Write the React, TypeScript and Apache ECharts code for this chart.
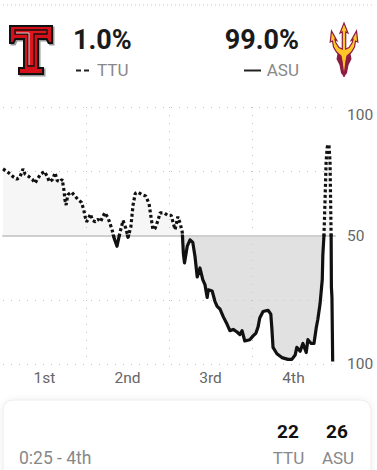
import React, { useEffect, useRef } from 'react';
import * as echarts from 'echarts';

const quarterLabels = ['1st', '2nd', '3rd', '4th'];
const yTickTop = ['100'];
const yTickBottom = ['100', '50'];
const teamNames = ['TTU', 'ASU'];
const winPercent = ['1.0%', '99.0%'];
const finalScores = [22, 26];
const gameClock = '0:25 - 4th';

const gameMinute = [
  0, 0.7, 1.3, 1.8, 2.5, 3.1, 3.6, 4.0, 4.7, 5.3, 5.8, 6.2, 6.8, 7.5, 8.0, 8.4, 9.0, 9.4, 9.8, 10.3,
  10.7, 11.0, 11.2, 11.4, 11.7, 12.4, 13.0, 13.6, 14.2, 14.6, 14.9, 15.1, 15.4, 15.8, 16.2, 16.7, 17.2, 17.6, 18.4, 19.0,
  19.7, 20.1, 20.6, 21.1, 21.7, 22.2, 22.6, 23.1, 23.5, 23.9, 24.4, 25.1, 25.8, 26.4, 26.7, 27.1, 27.5, 28.0, 28.4, 29.1,
  29.8, 30.4, 30.7, 31.1, 31.6, 32.0, 32.4, 32.6, 32.8, 33.3, 33.8, 34.3, 34.7, 35.1, 35.6, 36.1, 36.5, 36.9, 37.1, 37.8,
  38.3, 38.7, 39.2, 39.8, 40.5, 41.0, 41.6, 42.3, 42.8, 43.2, 43.7, 44.6, 45.2, 45.7, 46.1, 46.4, 47.0, 47.9, 48.4, 48.6,
  48.8, 49.5, 50.4, 51.5, 52.2, 52.8, 53.1, 53.7, 54.2, 54.8, 55.1, 55.7, 56.2, 56.6, 56.9, 57.3, 57.7, 57.8, 58.0, 58.2,
  58.4, 58.6, 58.9, 59.1, 59.3, 59.35, 59.45, 59.58,
];
const ttuWinProb = [
  76, 75, 74, 73, 72, 73, 76, 74, 73, 72, 70.5, 72, 74, 75, 73, 71, 72, 74.5, 71.5, 71,
  72, 68, 64, 62, 66, 67, 65.5, 64, 63, 60, 57, 55.5, 56.5, 58.5, 56, 55.5, 56.5, 55.5, 59, 57,
  52.5, 49, 46, 51, 56, 53, 49.5, 53.5, 62, 66.5, 67, 66, 65.5, 62.5, 58, 52.5, 53, 56, 59, 59,
  58, 58, 55.5, 52.5, 57.5, 55, 51.5, 43, 39.5, 46, 48.5, 47.5, 42, 34, 37.5, 33, 31, 26, 29, 28.5,
  24.5, 22.5, 21.5, 18.5, 15.5, 13, 13.5, 12.5, 11.5, 13, 9, 9.5, 11, 12, 14.5, 18, 20.5, 21, 19.5, 13.5,
  6.5, 4, 2.5, 1.8, 1.8, 3.5, 6.5, 5, 8, 4.5, 9.5, 8, 8, 14, 17.5, 23.5, 33, 42.5, 50, 64,
  79, 84.5, 85.5, 79, 50, 30, 26, 1,
];

const FONT = 'Roboto, "Noto Sans", Arial, sans-serif';
const GRID_COLOR = '#c4c4c4';

const ttuSilhouette = [[0,0],[44,0],[44,19],[39,19],[37,15],[30,15],[30,42],[35,42],[35,50],[9,50],[9,42],[14,42],[14,15],[7,15],[5,19],[0,19]];
const ttuRed = [[2,2],[42,2],[42,17],[40.3,17],[38.3,13],[28,13],[28,44],[33,44],[33,48],[11,48],[11,44],[16,44],[16,13],[5.7,13],[3.7,17],[2,17]];
const ttuInner = [[6,5],[38,5],[38,9],[25,9],[25,41],[19,41],[19,9],[6,9]];

const tridentHalf = [[14,0],[18,10],[15.7,9],[15.7,26],[19,24.5],[22,20],[23,16.5],[21.2,17.5],[26.5,8],[27.8,19],[25.5,18],[24.5,24],[21.5,29],[17,33],[16,38],[14,54]];
const trident = tridentHalf.concat(tridentHalf.slice(1, -1).reverse().map(([x, y]) => [28 - x, y]));
const flames = [[8,28],[20,28],[21.5,36],[18.5,42],[17,50],[14,54],[11,50],[9.5,42],[6.5,36]];

function txt(text: string, x: number, y: number, size: number, color: string, align = 'left', weight = 'normal') {
  return {
    type: 'text',
    x,
    y,
    z: 10,
    style: { text, fontSize: size, fontFamily: FONT, fontWeight: weight, fill: color, align, verticalAlign: 'middle' },
  };
}

export default function App() {
  const ref = useRef<HTMLDivElement>(null);
  useEffect(() => {
    if (!ref.current) return;
    const chart = echarts.init(ref.current, undefined, { renderer: 'svg' });
    const data = gameMinute.map((t, i) => [t, ttuWinProb[i]]);
    const splitDotted = { color: GRID_COLOR, type: [1, 7], width: 1 };
    const valueX = (gridIndex: number, withLine: boolean) => ({
      gridIndex,
      type: 'value',
      min: 0,
      max: 60,
      interval: 15,
      position: 'bottom',
      z: 2,
      axisLine: { show: withLine, onZero: false, lineStyle: { color: '#cfcfcf', width: 2 } },
      axisTick: { show: false },
      axisLabel: { show: false },
      splitLine: { show: true, showMinLine: false, showMaxLine: false, lineStyle: splitDotted },
    });
    chart.setOption({
      animation: false,
      backgroundColor: '#ffffff',
      grid: [
        { left: 3, top: 107, width: 332, height: 129 },
        { left: 3, top: 236, width: 332, height: 128 },
      ],
      xAxis: [
        valueX(0, true),
        valueX(1, false),
        {
          gridIndex: 1,
          type: 'category',
          data: quarterLabels,
          position: 'bottom',
          boundaryGap: true,
          axisLine: { show: false },
          axisTick: { show: false },
          splitLine: { show: false },
          axisLabel: { color: '#666', fontSize: 15.5, fontFamily: FONT, margin: 6 },
        },
      ],
      yAxis: [
        {
          gridIndex: 0,
          type: 'value',
          min: 50,
          max: 100,
          interval: 25,
          position: 'right',
          z: 2,
          axisLine: { show: false },
          axisTick: { show: false },
          axisLabel: {
            color: '#666', fontSize: 15.5, fontFamily: FONT, margin: 12, verticalAlign: 'top',
            formatter: (v: number) => (v === 100 ? yTickTop[0] : ''),
          },
          splitLine: { show: true, showMinLine: false, lineStyle: splitDotted },
        },
        {
          gridIndex: 1,
          type: 'value',
          min: 0,
          max: 50,
          interval: 25,
          position: 'right',
          z: 2,
          axisLine: { show: false },
          axisTick: { show: false },
          axisLabel: {
            color: '#666', fontSize: 15.5, fontFamily: FONT, margin: 12,
            formatter: (v: number) => (v === 0 ? yTickBottom[0] : v === 50 ? yTickBottom[1] : ''),
          },
          splitLine: { show: true, showMaxLine: false, lineStyle: splitDotted },
        },
      ],
      series: [
        {
          type: 'line', xAxisIndex: 0, yAxisIndex: 0, data, symbol: 'none', z: 1,
          lineStyle: { width: 0, opacity: 0 },
          areaStyle: { color: '#f6f6f6', origin: 'start', opacity: 1 },
        },
        {
          type: 'line', xAxisIndex: 1, yAxisIndex: 1, data, symbol: 'none', z: 1,
          lineStyle: { width: 0, opacity: 0 },
          areaStyle: { color: '#e1e1e1', origin: 'end', opacity: 1 },
        },
        {
          type: 'line', xAxisIndex: 0, yAxisIndex: 0, data, symbol: 'none', z: 3,
          lineStyle: { width: 3.2, color: '#111', type: [3, 2.5] },
        },
        {
          type: 'line', xAxisIndex: 1, yAxisIndex: 1, data, symbol: 'none', z: 3,
          lineStyle: { width: 3.2, color: '#111', type: 'solid', join: 'round' },
        },
      ],
      graphic: [
        { type: 'line', shape: { x1: 3, y1: 5, x2: 372, y2: 5 }, style: { stroke: '#c8c8c8', lineWidth: 1, lineDash: [1, 3] } },
        {
          type: 'group', x: 9, y: 25,
          children: [
            { type: 'polygon', x: 1.5, y: 1.5, shape: { points: ttuSilhouette }, style: { fill: '#9a9a9a' } },
            { type: 'polygon', shape: { points: ttuSilhouette }, style: { fill: '#111' } },
            { type: 'polygon', shape: { points: ttuRed }, style: { fill: '#d4111b' } },
            { type: 'polygon', shape: { points: ttuInner }, style: { fill: '#e0161f', stroke: '#111', lineWidth: 1.3 } },
            { type: 'polyline', shape: { points: [[20,40],[20,8],[7,8]] }, style: { stroke: '#f3f3f3', lineWidth: 0.8, fill: 'none' } },
          ],
        },
        txt(winPercent[0], 73, 40, 27, '#1a1a1a', 'left', 'bold'),
        { type: 'line', shape: { x1: 76, y1: 70.5, x2: 89, y2: 70.5 }, style: { stroke: '#222', lineWidth: 2, lineDash: [5, 3] } },
        txt(teamNames[0], 97, 70, 17, '#888'),
        txt(winPercent[1], 299, 40, 27, '#1a1a1a', 'right', 'bold'),
        { type: 'line', shape: { x1: 244, y1: 70.5, x2: 261, y2: 70.5 }, style: { stroke: '#222', lineWidth: 2 } },
        txt(teamNames[1], 299, 70, 17, '#888', 'right'),
        {
          type: 'group', x: 330, y: 23,
          children: [
            { type: 'polygon', shape: { points: flames }, style: { fill: '#8c1d40' } },
            { type: 'polygon', shape: { points: trident }, style: { fill: '#ffc627', stroke: '#8c1d40', lineWidth: 1.2 } },
          ],
        },
        {
          type: 'rect', shape: { x: 3, y: 400, width: 368, height: 100, r: 10 },
          style: { fill: '#fff', stroke: '#ececec', lineWidth: 1, shadowBlur: 6, shadowColor: 'rgba(0,0,0,0.07)' },
        },
        txt(String(finalScores[0]), 288, 431, 19, '#111', 'center', 'bold'),
        txt(String(finalScores[1]), 337, 431, 19, '#111', 'center', 'bold'),
        txt(teamNames[0], 288.5, 458, 17, '#888', 'center'),
        txt(teamNames[1], 338, 458, 17, '#888', 'center'),
        txt(gameClock, 19, 458, 17.5, '#888'),
      ],
    });
    return () => chart.dispose();
  }, []);
  return <div ref={ref} style={{ position: 'fixed', left: 0, top: 0, width: 377, height: 470 }} />;
}
